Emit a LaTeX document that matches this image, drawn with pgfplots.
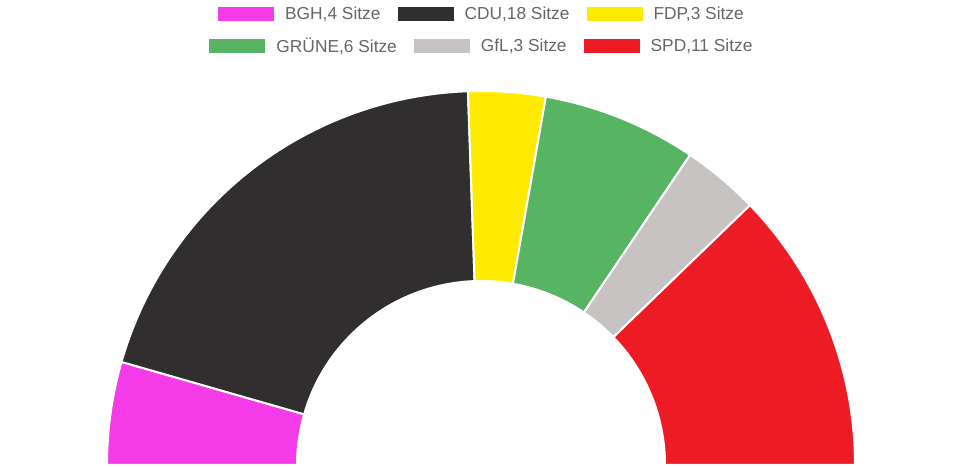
\documentclass[border=0pt]{standalone}
\usepackage{pgfplots}
\pgfplotsset{compat=1.18}
\usepackage{fontspec}
\setmainfont{Liberation Sans}
\definecolor{cBGH}{HTML}{F53AE8}
\definecolor{cCDU}{HTML}{302E2F}
\definecolor{cFDP}{HTML}{FFEB00}
\definecolor{cGRU}{HTML}{57B462}
\definecolor{cGfL}{HTML}{C6C3C2}
\definecolor{cSPD}{HTML}{ED1C24}
\definecolor{legtext}{HTML}{666666}
% seats
\def\sBGH{4}\def\sCDU{18}\def\sFDP{3}\def\sGRU{6}\def\sGfL{3}\def\sSPD{11}
\def\Rout{374}\def\Rin{185}
\pgfplotsset{
  base/.style={
    scale only axis, width=720pt, height=350.25pt,
    xmin=-481, xmax=479, ymin=-2, ymax=465,
    axis line style={draw=none}, ticks=none, clip=false,
    legend columns=3,
    legend image code/.code={\fill[##1,draw=none] (0pt,-5.6pt) rectangle (42pt,5.6pt);},
    legend style={draw=none, fill=none, inner sep=0pt, outer sep=0pt,
      anchor=center, font=\fontsize{13}{15}\selectfont, text=legtext,
      nodes={inner sep=0pt},
      /tikz/every odd column/.append style={column sep=8.25pt},
      /tikz/every even column/.append style={column sep=12.75pt}},
  },
  wedge/.style={draw=white, line width=1.5pt, samples=60, smooth},
}
\begin{document}
\begin{tikzpicture}
\pgfmathsetmacro{\tot}{\sBGH+\sCDU+\sFDP+\sGRU+\sGfL+\sSPD}
\pgfmathsetmacro{\dps}{180/\tot}
\pgfmathsetmacro{\aA}{180}
\pgfmathsetmacro{\aB}{\aA-\sBGH*\dps}
\pgfmathsetmacro{\aC}{\aB-\sCDU*\dps}
\pgfmathsetmacro{\aD}{\aC-\sFDP*\dps}
\pgfmathsetmacro{\aE}{\aD-\sGRU*\dps}
\pgfmathsetmacro{\aF}{\aE-\sGfL*\dps}
\pgfmathsetmacro{\aG}{\aF-\sSPD*\dps}
\begin{axis}[base, legend style={at={(0.501,0.970)}}]
\addplot[wedge, fill=cBGH, domain=\aB:\aA] ({\Rout*cos(x)},{\Rout*sin(x)}) -- (axis cs:0,0) -- cycle;
\addlegendentry{BGH,4 Sitze}
\addplot[wedge, fill=cCDU, domain=\aC:\aB] ({\Rout*cos(x)},{\Rout*sin(x)}) -- (axis cs:0,0) -- cycle;
\addlegendentry{CDU,18 Sitze}
\addplot[wedge, fill=cFDP, domain=\aD:\aC] ({\Rout*cos(x)},{\Rout*sin(x)}) -- (axis cs:0,0) -- cycle;
\addlegendentry{FDP,3 Sitze}
\end{axis}
\begin{axis}[base, legend style={at={(0.501,0.9015)}}]
\addplot[wedge, fill=cGRU, domain=\aE:\aD] ({\Rout*cos(x)},{\Rout*sin(x)}) -- (axis cs:0,0) -- cycle;
\addlegendentry{GRÜNE,6 Sitze}
\addplot[wedge, fill=cGfL, domain=\aF:\aE] ({\Rout*cos(x)},{\Rout*sin(x)}) -- (axis cs:0,0) -- cycle;
\addlegendentry{GfL,3 Sitze}
\addplot[wedge, fill=cSPD, domain=\aG:\aF] ({\Rout*cos(x)},{\Rout*sin(x)}) -- (axis cs:0,0) -- cycle;
\addlegendentry{SPD,11 Sitze}
\addplot[forget plot, draw=none, fill=white, domain=0:180, samples=90, smooth] ({\Rin*cos(x)},{\Rin*sin(x)}) -- cycle;
\end{axis}
\end{tikzpicture}
\end{document}
